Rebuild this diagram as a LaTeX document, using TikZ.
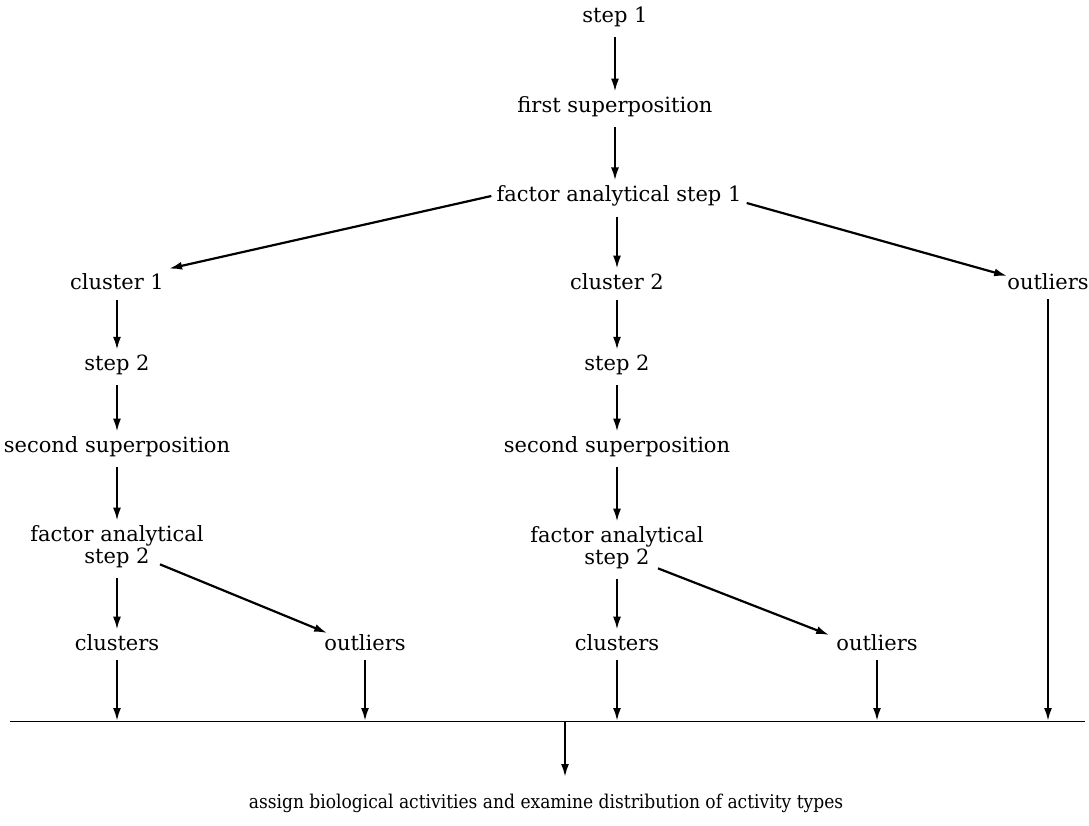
\documentclass[tikz,border=0pt]{standalone}
\usepackage{fontspec}
\setmainfont{DejaVu Serif}
\newfontfamily\narrowserif[FakeStretch=0.9]{DejaVu Serif}
\usetikzlibrary{arrows.meta,calc}
\begin{document}
\begin{tikzpicture}[x=1pt,y=-1pt,
  lab/.style={inner sep=5pt,font=\fontsize{21}{22}\selectfont},
  small/.style={inner sep=5pt,font=\narrowserif\fontsize{19}{21}\selectfont},
  arr/.style={line width=2.2pt,-{Latex[length=13pt,width=8pt]}}]
\useasboundingbox (0,0) rectangle (1089,826);
% top column
\node[lab] (s1) at (615,17) {step 1};
\node[lab] (fs) at (615,107) {first superposition};
\node[lab] (f1) at (619,196) {factor analytical step 1};
% level 2
\node[lab] (c1) at (117,282) {cluster 1};
\node[lab] (c2) at (617,282) {cluster 2};
\node[lab] (o0) at (1048,282) {outliers};
% left branch
\node[lab] (l2) at (117,365) {step 2};
\node[lab] (lss) at (117,447) {second superposition};
\node[lab,align=center] (lf2) at (117,547) {factor analytical\\step 2};
\node[lab] (lcl) at (117,643) {clusters};
\node[lab] (lol) at (365,643) {outliers};
% centre branch
\node[lab] (m2) at (617,365) {step 2};
\node[lab] (mss) at (617,447) {second superposition};
\node[lab,align=center] (mf2) at (617,548) {factor analytical\\step 2};
\node[lab] (mcl) at (617,643) {clusters};
\node[lab] (mol) at (877,643) {outliers};
% final
\node[small] (fin) at (546,803) {assign biological activities and examine distribution of activity types};
% collecting line
\coordinate (L) at (10,721);
\coordinate (R) at (1085,721);
\draw[line width=1pt] (L) -- (R);
\coordinate (p1) at (117,721);
\coordinate (p2) at (365,721);
\coordinate (p3) at (617,721);
\coordinate (p4) at (877,721);
\coordinate (p5) at (1048,721);
\coordinate (b0) at (565,721);
\coordinate (b1) at (565,777);
% connectors
\draw[arr,shorten <=5pt] (s1) -- (fs);
\draw[arr,shorten <=5pt] (fs.south) -- (fs.south |- f1.north);
\draw[arr,shorten <=5pt] (f1.south -| c2) -- (c2);
\draw[arr] (f1.west) -- (c1.north east);
\draw[arr] ($(f1.east)+(0,7)$) -- ($(o0.west)+(5,-6)$);
\draw[arr,shorten <=5pt] (c1) -- (l2);
\draw[arr,shorten <=5pt] (l2) -- (lss);
\draw[arr,shorten <=5pt] (lss) -- (lf2);
\draw[arr,shorten <=5pt] (lf2) -- (lcl);
\draw[arr] ($(lf2.south)+(43,-9)$) -- ($(lol.west)+(8,-10)$);
\draw[arr,shorten <=5pt] (c2) -- (m2);
\draw[arr,shorten <=5pt] (m2) -- (mss);
\draw[arr,shorten <=5pt] (mss) -- (mf2);
\draw[arr,shorten <=5pt] (mf2) -- (mcl);
\draw[arr] ($(mf2.south)+(41,-6)$) -- ($(mol.west)+(-2,-8)$);
\draw[arr,shorten <=4pt] (lcl) -- (p1);
\draw[arr,shorten <=4pt] (lol) -- (p2);
\draw[arr,shorten <=4pt] (mcl) -- (p3);
\draw[arr,shorten <=4pt] (mol) -- (p4);
\draw[arr,shorten <=4pt] (o0) -- (p5);
\draw[arr] (b0) -- (b1);
\end{tikzpicture}
\end{document}
